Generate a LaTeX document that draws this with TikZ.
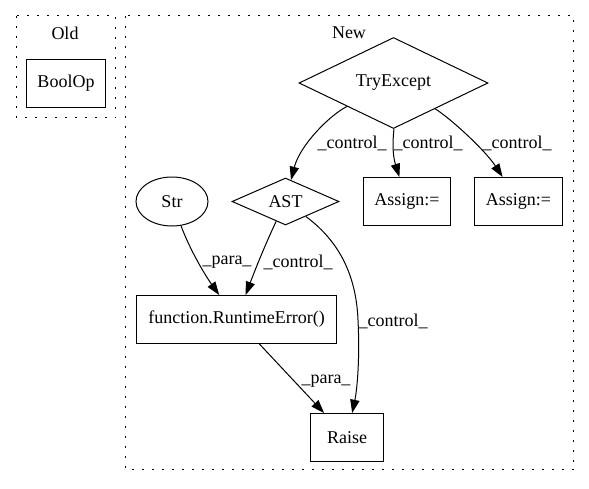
\documentclass[tikz,border=0pt]{standalone}
\usepackage{fontspec}
\setmainfont{Liberation Serif}
\usetikzlibrary{shapes.geometric,arrows.meta}
\begin{document}
\begin{tikzpicture}[x=1pt,y=-1pt,
  every node/.style={font=\fontsize{18}{21}\selectfont, inner sep=0pt},
  cluster/.style={draw, line width=1.4pt, dash pattern=on 2pt off 8pt},
  boxnode/.style={draw, rectangle, line width=1pt},
  dianode/.style={draw, diamond, line width=1pt},
  ellnode/.style={draw, ellipse, line width=1pt},
  edge/.style={draw, line width=1pt, -{Triangle[length=13.3pt,width=9.3pt]}},
  elabel/.style={}
]
\useasboundingbox (0,0) rectangle (589,488);
% clusters
\draw[cluster] (16.5,15.5) rectangle (115.5,117.5);
\node (oldt) at (65,33) {Old};
\draw[cluster] (125.5,15.5) rectangle (573.5,469.5);
\node (newt) at (349,33) {New};
% nodes
\node[boxnode, minimum width=79pt, minimum height=48pt] (boolop) at (66,83.5) {BoolOp};
\node[dianode, minimum width=189pt, minimum height=48pt] (te) at (393.5,83) {TryExcept};
\node[ellnode, minimum width=72pt, minimum height=49pt] (str) at (172,201.5) {Str};
\node[dianode, minimum width=107pt, minimum height=47pt] (ast) at (285.5,201.5) {AST};
\node[boxnode, minimum width=87pt, minimum height=48pt] (as1) at (407,201.5) {Assign:=};
\node[boxnode, minimum width=88pt, minimum height=48pt] (as2) at (518.5,201.5) {Assign:=};
\node[boxnode, minimum width=200pt, minimum height=48pt] (rte) at (236.5,319.5) {function.RuntimeError()};
\node[boxnode, minimum width=73pt, minimum height=48pt] (raise) at (347,437.5) {Raise};
% edges
\draw[edge] (te) .. controls (330,115) and (300,145) .. (ast);
\draw[edge] (te) .. controls (394,130) and (391,150) .. (as1);
\draw[edge] (te) .. controls (450,118) and (485,150) .. (as2);
\draw[edge] (str) .. controls (190,250) and (205,275) .. (rte);
\draw[edge] (ast) .. controls (265,245) and (255,270) .. (rte);
\draw[edge] (ast) .. controls (335,238) and (356,270) .. (358,320) .. controls (360,360) and (357,390) .. (raise);
\draw[edge] (rte) -- (raise);
% labels
\node[elabel] (l1) at (352,143) {\_control\_};
\node[elabel] (l2) at (428,143) {\_control\_};
\node[elabel] (l3) at (517,143) {\_control\_};
\node[elabel] (l4) at (227,262) {\_para\_};
\node[elabel] (l5) at (298,262) {\_control\_};
\node[elabel] (l6) at (393,321) {\_control\_};
\node[elabel] (l7) at (326,381) {\_para\_};
\end{tikzpicture}
\end{document}
